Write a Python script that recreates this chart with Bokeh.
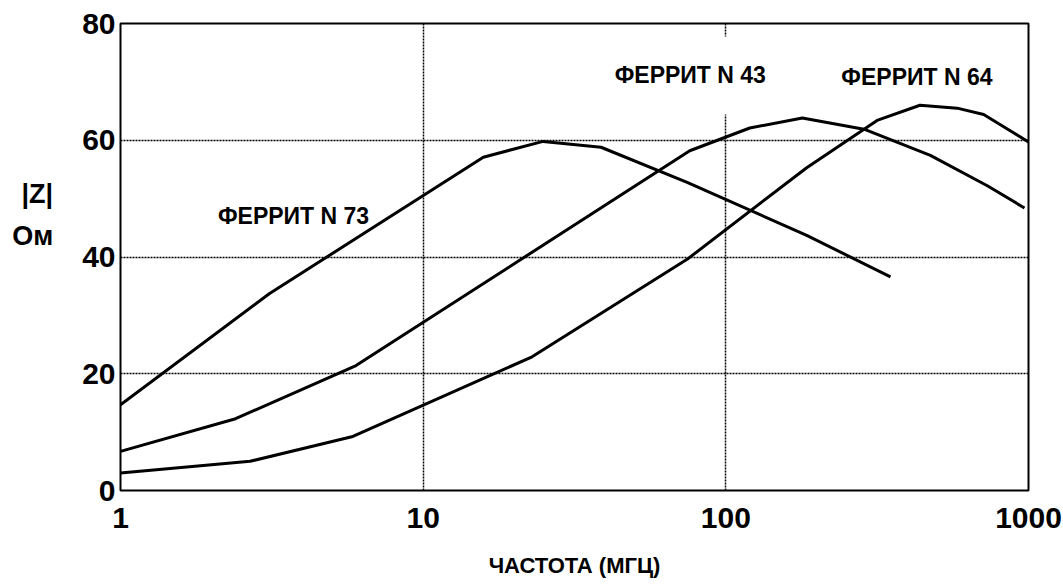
from bokeh.plotting import figure
from bokeh.models import Range1d, FixedTicker, Label
from bokeh.embed import file_html
from bokeh.resources import INLINE

# ---- data ----
freq_73 = [1, 3.1, 15.8, 24.9, 38.7, 74.5, 185, 350]
z_73 = [14.7, 33.7, 57.1, 59.8, 58.8, 52.8, 43.7, 36.6]

freq_43 = [1, 2.4, 6.0, 76, 120, 179, 286, 474, 731, 970]
z_43 = [6.7, 12.3, 21.4, 58.2, 62.1, 63.8, 61.9, 57.4, 52.2, 48.4]

freq_64 = [1, 2.68, 5.81, 22.9, 74.5, 185, 316, 438, 581, 711, 1000]
z_64 = [3.0, 5.0, 9.2, 22.9, 39.6, 55.3, 63.4, 66.0, 65.5, 64.4, 59.7]

x_ticks = [1, 10, 100, 1000]
y_ticks = [0, 20, 40, 60, 80]
x_grid = [10, 100]
y_grid = [20, 40, 60]

series_labels = ["ФЕРРИТ N 73", "ФЕРРИТ N 43", "ФЕРРИТ N 64"]
label_freq = [3.73, 76.3, 428]
label_z = [47.0, 71.1, 70.9]

x_title = "ЧАСТОТА (МГЦ)"
y_title = "|Z|\nОм\n \n "

FONT = "Liberation Sans"

p = figure(width=1063, height=585, x_axis_type="log",
           x_range=Range1d(1, 1000), y_range=Range1d(0, 80),
           output_backend="svg", toolbar_location=None,
           min_border_left=120, min_border_right=35,
           min_border_top=23, min_border_bottom=95)

p.background_fill_color = "white"
p.border_fill_color = "white"
p.outline_line_color = "black"
p.outline_line_width = 2

# grid
p.xgrid.ticker = FixedTicker(ticks=x_grid)
p.ygrid.ticker = FixedTicker(ticks=y_grid)
for g in (p.xgrid, p.ygrid):
    g.grid_line_color = "black"
    g.grid_line_width = 1.5
    g.grid_line_dash = "2 1"
    g.minor_grid_line_color = None

# axes
p.xaxis.ticker = FixedTicker(ticks=x_ticks)
p.xaxis.major_label_overrides = {t: str(t) for t in x_ticks}
p.yaxis.ticker = FixedTicker(ticks=y_ticks)
for ax in (p.xaxis, p.yaxis):
    ax.axis_line_color = None
    ax.major_tick_line_color = None
    ax.minor_tick_line_color = None
    ax.major_tick_out = 0
    ax.minor_tick_out = 0
    ax.major_label_text_font = FONT
    ax.major_label_text_font_style = "bold"
    ax.major_label_text_font_size = "30px"
    ax.major_label_text_color = "black"
    ax.axis_label_text_font = FONT
    ax.axis_label_text_font_style = "bold"
    ax.axis_label_text_color = "black"
p.xaxis.major_label_standoff = 17
p.yaxis.major_label_standoff = 5

p.xaxis.axis_label = x_title
p.xaxis.axis_label_text_font_size = "22px"
p.xaxis.axis_label_text_line_height = 0.9
p.xaxis.axis_label_standoff = 22

p.yaxis.axis_label = y_title
p.yaxis.axis_label_orientation = "horizontal"
p.yaxis.axis_label_text_font_size = "27px"
p.yaxis.axis_label_text_line_height = 1.4
p.yaxis.axis_label_standoff = 26

# curves
for fx, zy in ((freq_73, z_73), (freq_43, z_43), (freq_64, z_64)):
    p.line(fx, zy, line_color="black", line_width=3, line_join="round")

# curve labels
for i, (txt, fx, zy) in enumerate(zip(series_labels, label_freq, label_z)):
    kw = {}
    if i == 1:
        kw = dict(background_fill_color="white",
                  padding=dict(left=8, right=8, top=26, bottom=26))
    p.add_layout(Label(x=fx, y=zy, text=txt, text_align="center",
                       text_baseline="middle", text_font=FONT,
                       text_font_style="bold", text_font_size="23px",
                       text_color="black", **kw))

open("out.html", "w").write(file_html(p, INLINE))
